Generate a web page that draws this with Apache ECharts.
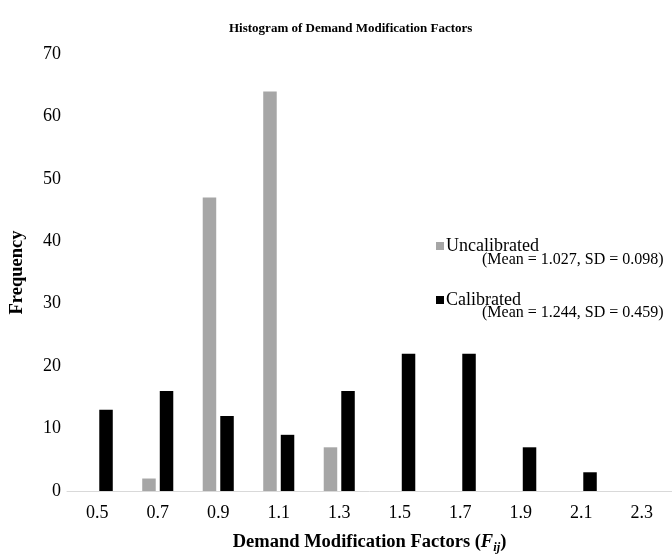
<!DOCTYPE html>
<html>
<head>
<meta charset="utf-8">
<script src="https://cdn.jsdelivr.net/npm/echarts@6/dist/echarts.min.js"></script>
<style>html,body{margin:0;padding:0;background:#fff;}#c{width:672px;height:559px;}</style>
</head>
<body>
<div id="c"></div>
<script>
var categories = ['0.5','0.7','0.9','1.1','1.3','1.5','1.7','1.9','2.1','2.3'];
var uncalibrated = [0, 2, 47, 64, 7, 0, 0, 0, 0, 0];
var calibrated = [13, 16, 12, 9, 16, 22, 22, 7, 3, 0];
var seriesNames = ['Uncalibrated', 'Calibrated'];
var seriesNotes = ['(Mean = 1.027, SD = 0.098)', '(Mean = 1.244, SD = 0.459)'];
var yTicks = {min: 0, max: 70, interval: 10};

var FONT = 'Liberation Serif';
var chart = echarts.init(document.getElementById('c'));
chart.setOption({
  animation: false,
  backgroundColor: '#fff',
  title: {
    text: 'Histogram of Demand Modification Factors',
    left: 224, top: 17,
    textStyle: {fontFamily: FONT, fontSize: 13, fontWeight: 'bold', color: '#000'}
  },
  legend: {
    orient: 'vertical',
    left: 431, top: 232,
    itemWidth: 8, itemHeight: 8,
    itemGap: 36,
    icon: 'rect',
    data: seriesNames,
    textStyle: {fontFamily: FONT, fontSize: 18, color: '#000', padding: [0,0,0,-3]}
  },
  graphic: [
    {type: 'text', left: 482, top: 252, style: {text: seriesNotes[0], font: '16px "Liberation Serif"', fill: '#000'}},
    {type: 'text', left: 482, top: 305, style: {text: seriesNotes[1], font: '16px "Liberation Serif"', fill: '#000'}}
  ],
  grid: {left: 67, right: -3, top: 54, bottom: 61, containLabel: false},
  xAxis: {
    type: 'category',
    data: categories,
    axisTick: {show: false},
    axisLine: {lineStyle: {color: '#d9d9d9', width: 1}},
    axisLabel: {fontFamily: FONT, fontSize: 18, color: '#000', margin: 13},
    name: '{b|Demand Modification Factors (}{i|F}{s|ij}{b|)}',
    nameLocation: 'middle',
    nameGap: 40,
    nameTextStyle: {
      rich: {
        b: {fontFamily: FONT, fontSize: 18.5, fontWeight: 'bold', color: '#000'},
        i: {fontFamily: FONT, fontSize: 18.5, fontWeight: 'bold', fontStyle: 'italic', color: '#000'},
        s: {fontFamily: FONT, fontSize: 12.5, fontWeight: 'bold', fontStyle: 'italic', color: '#000', padding: [10,0,0,0]}
      }
    }
  },
  yAxis: {
    type: 'value',
    min: yTicks.min, max: yTicks.max, interval: yTicks.interval,
    splitLine: {show: false},
    axisLine: {show: false},
    axisTick: {show: false},
    axisLabel: {fontFamily: FONT, fontSize: 18, color: '#000', margin: 6},
    name: 'Frequency',
    nameLocation: 'middle',
    nameGap: 40,
    nameTextStyle: {fontFamily: FONT, fontSize: 18.5, fontWeight: 'bold', color: '#000'}
  },
  series: [
    {name: seriesNames[0], type: 'bar', data: uncalibrated, barWidth: 13.5, barGap: '30%', itemStyle: {color: '#a6a6a6'}},
    {name: seriesNames[1], type: 'bar', data: calibrated, barWidth: 13.5, barGap: '30%', itemStyle: {color: '#000000'}}
  ]
});
</script>
</body>
</html>
